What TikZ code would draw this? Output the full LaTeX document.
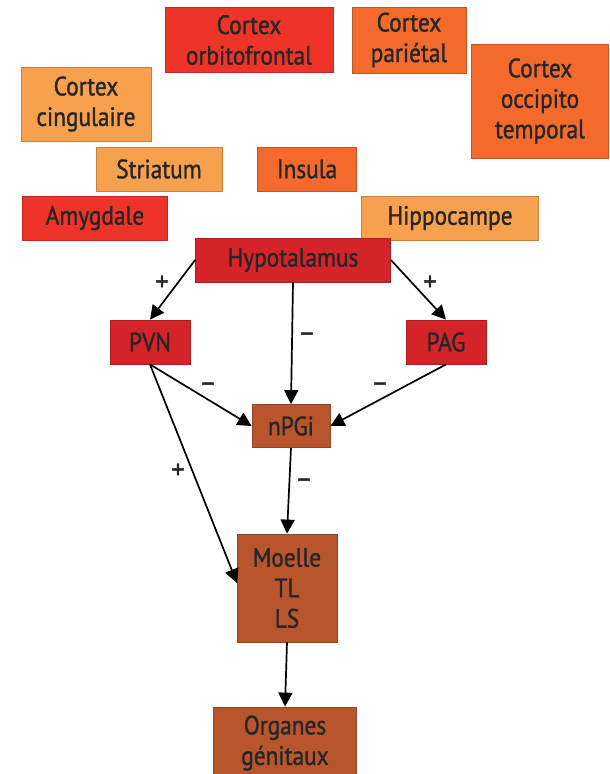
\documentclass[tikz,border=0pt]{standalone}
\usepackage{fontspec}
\setmainfont[FakeBold=1.2,FakeStretch=0.88]{PT Sans}
\newfontfamily\sgnfont[FakeBold=1.5]{PT Sans}
\usetikzlibrary{arrows.meta}
\definecolor{lorange}{HTML}{F7A04E}
\definecolor{morange}{HTML}{F46A2C}
\definecolor{bred}{HTML}{EE3328}
\definecolor{dred}{HTML}{D4242A}
\definecolor{brown}{HTML}{B8552C}
\tikzset{
  box/.style={rectangle, draw=#1!80!black, line width=0.8pt, fill=#1, inner sep=0pt,
    align=center, font=\fontsize{26.5}{30.5}\selectfont, text=black!85},
  arr/.style={line width=1.7pt, -{Triangle[length=14pt,width=14pt]}},
  sgn/.style={font=\sgnfont\fontsize{27}{28}\selectfont, inner sep=0pt, text=black!85}
}
\begin{document}
\begin{tikzpicture}[x=1pt,y=-1pt]
\useasboundingbox (0,0) rectangle (610,774);
\clip (0,0) rectangle (610,774);
\node[box=bred, minimum width=168pt, minimum height=65pt] (orb) at (249,40) {Cortex\\orbitofrontal};
\node[box=morange, minimum width=114pt, minimum height=66pt] (par) at (409,40) {Cortex\\pariétal};
\node[box=morange, minimum width=137pt, minimum height=114pt] (occ) at (540,101) {Cortex\\occipito\\temporal};
\node[box=lorange, minimum width=130pt, minimum height=74pt] (cing) at (86,104) {Cortex\\cingulaire};
\node[box=lorange, minimum width=126pt, minimum height=44pt] (stri) at (159,169) {Striatum};
\node[box=morange, minimum width=99pt, minimum height=44pt] (ins) at (307,169) {Insula};
\node[box=bred, minimum width=145pt, minimum height=44pt] (amy) at (95,218) {Amygdale};
\node[box=lorange, minimum width=177pt, minimum height=44pt] (hip) at (450,218) {Hippocampe};
\node[box=dred, minimum width=195pt, minimum height=44pt] (hyp) at (293,260) {Hypotalamus};
\node[box=dred, minimum width=80pt, minimum height=44pt] (pvn) at (150,342) {PVN};
\node[box=dred, minimum width=80pt, minimum height=44pt] (pag) at (446,342) {PAG};
\node[box=brown, minimum width=78pt, minimum height=43pt] (npgi) at (291,426) {nPGi};
\node[box=brown, minimum width=100pt, minimum height=108pt] (moe) at (287,588) {Moelle\\TL\\LS};
\node[box=brown, minimum width=143pt, minimum height=72pt] (org) at (285,743) {Organes\\génitaux};
\coordinate (mw) at (237,583);
\draw[arr] (hyp.west) -- (pvn.north);
\draw[arr] (hyp.east) -- (pag.north);
\draw[arr] (hyp.south) -- (npgi.north);
\draw[arr] (pvn.south) -- (npgi.west);
\draw[arr] (pag.south) -- (npgi.east);
\draw[arr] (pvn.south) -- (mw);
\draw[arr] (npgi.south) -- (moe.north);
\draw[arr] (moe.south) -- (org.north);
\node[sgn] (s1) at (162,283) {+};
\node[sgn] (s2) at (430,283) {+};
\node[sgn] (s3) at (307,337) {–};
\node[sgn] (s4) at (208,387) {–};
\node[sgn] (s5) at (380,387) {–};
\node[sgn] (s6) at (178,471) {+};
\node[sgn] (s7) at (304,483) {–};
\end{tikzpicture}
\end{document}
